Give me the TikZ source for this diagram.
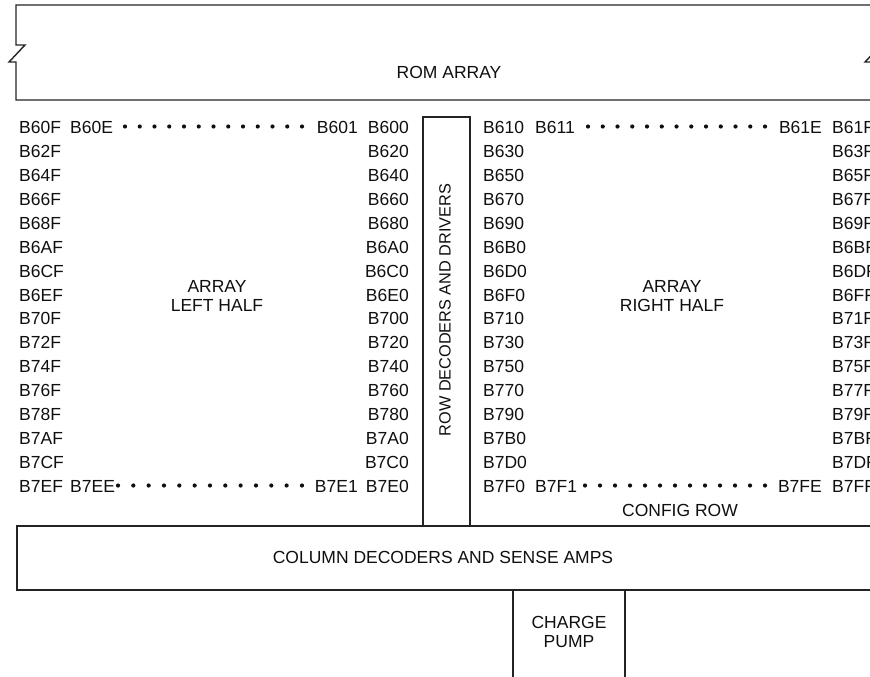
\documentclass[tikz,border=0pt]{standalone}
\usepackage{fontspec}
\setmainfont{Liberation Sans}
\definecolor{romline}{RGB}{35,35,35}
\definecolor{romtext}{RGB}{15,15,15}

\begin{document}
\begin{tikzpicture}[
    x=1pt, y=-1pt,
    line join=miter,
    blk/.style={romline, line width=1.4pt},
    lbl/.style={romtext, font=\fontsize{17.5}{19}\selectfont, inner sep=0pt},
    lblc/.style={lbl, align=center},
    bullet/.style={romtext},
  ]

  \useasboundingbox (0,0) rectangle (870,677);
  \clip (0,0) rectangle (870,677);

  % ---- block outlines ---------------------------------------
  \draw[blk] (873,5) -- (16,5) -- (16,45) -- (25,45) -- (9,62) -- (16,62)
             -- (16,100) -- (873,100);                         % rom array
  \draw[blk] (873,5) -- (873,45) -- (881,45) -- (865,62) -- (873,62) -- (873,100);
  \draw[blk] (423,117) rectangle (470,526);                  % row decoders
  \draw[blk] (885,526) -- (17,526) -- (17,590) -- (885,590); % column decoders
  \draw[blk] (513,590) -- (513,680);                         % charge pump
  \draw[blk] (625,590) -- (625,680);

  % ---- block labels -----------------------------------------
  \node[lbl]  (rom)    at (449,72)  {ROM ARRAY};
  \node[lblc] (lhalf)  at (217,296) {ARRAY\\LEFT HALF};
  \node[lblc] (rhalf)  at (672,296) {ARRAY\\RIGHT HALF};
  \node[lbl, font=\fontsize{16.3}{19}\selectfont, rotate=90]
        (rowdec) at (445,310) {ROW DECODERS AND DRIVERS};
  \node[lbl]  (config) at (680,510) {CONFIG ROW};
  \node[lbl]  (coldec) at (443,557) {COLUMN DECODERS AND SENSE AMPS};
  \node[lblc] (pump)   at (569,632) {CHARGE\\PUMP};

  % ---- address columns --------------------------------------
  \foreach \ev/\od [count=\r from 0] in {60/61,62/63,64/65,66/67,68/69,6A/6B,
      6C/6D,6E/6F,70/71,72/73,74/75,76/77,78/79,7A/7B,7C/7D,7E/7F} {
    \pgfmathsetmacro{\ry}{127.5+23.93*\r}
    \node[lbl, anchor=west] (l\r) at (19,\ry)  {B\ev F};
    \node[lbl, anchor=east] (m\r) at (409,\ry) {B\ev 0};
    \node[lbl, anchor=west] (n\r) at (483,\ry) {B\od 0};
    \node[lbl, anchor=west] (r\r) at (832,\ry) {B\od F};
  }

  % ---- first and last rows ----------------------------------
  \node[lbl, anchor=west] (l0b)  at (70,127.5)  {B60E};
  \node[lbl, anchor=east] (m0b)  at (358,127.5) {B601};
  \node[lbl, anchor=west] (n0b)  at (535,127.5) {B611};
  \node[lbl, anchor=east] (r0b)  at (822,127.5) {B61E};
  \node[lbl, anchor=west] (l15b) at (70,486.5)  {B7EE};
  \node[lbl, anchor=east] (m15b) at (358,486.5) {B7E1};
  \node[lbl, anchor=west] (n15b) at (535,486.5) {B7F1};
  \node[lbl, anchor=east] (r15b) at (822,486.5) {B7FE};

  % ---- dotted runs ------------------------------------------
  \foreach \k in {0,...,12} {
    \fill[bullet] (125+14.75*\k,126.5) circle (2.1);
    \fill[bullet] (588+14.75*\k,126.5) circle (2.1);
    \fill[bullet] (118+15.33*\k,485.5) circle (2.1);
    \fill[bullet] (585+15.0*\k,485.5)  circle (2.1);
  }

\end{tikzpicture}
\end{document}
